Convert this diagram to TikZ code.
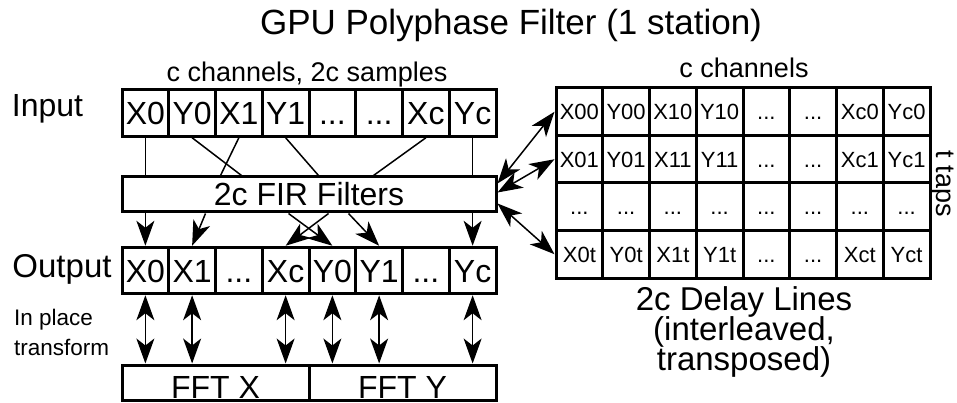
\documentclass[tikz,border=0pt]{standalone}
\usepackage{fontspec}
\setmainfont{Liberation Sans}
\usetikzlibrary{arrows.meta,calc}

\newcommand{\dts}{...}
\tikzset{
  cell/.style={draw, line width=3pt, inner sep=0pt, minimum width=46.75pt,
    minimum height=46.5pt, text height=23pt, text depth=0pt,
    font=\fontsize{32}{32}\selectfont},
  tapcell/.style={draw, line width=3pt, inner sep=0pt, minimum width=46.75pt,
    minimum height=47.5pt, text height=16pt, text depth=0pt,
    font=\fontsize{22}{22}\selectfont},
  bar/.style={draw, line width=3pt, inner sep=0pt, font=\fontsize{32}{32}\selectfont},
  lbl/.style={inner sep=0pt, anchor=base},
  wire/.style={line width=1.5pt},
  flow/.style={wire, -{Stealth[length=25pt,width=18pt,inset=7pt]}},
  swap/.style={wire, {Stealth[length=25pt,width=18pt,inset=7pt]}-{Stealth[length=25pt,width=18pt,inset=7pt]}},
}

\begin{document}
\begin{tikzpicture}[x=1pt,y=-1pt]
\useasboundingbox (0,0) rectangle (957,403);

\node[lbl, font=\fontsize{35}{35}\selectfont] (title) at (511,35) {GPU Polyphase Filter (1 station)};

\node[lbl, font=\fontsize{27}{27}\selectfont] (samples) at (307,82) {c channels, 2c samples};
\node[lbl, font=\fontsize{32}{32}\selectfont] (input) at (47.5,117) {Input};
\foreach \lab [count=\i] in {X0,Y0,X1,Y1,\dts,\dts,Xc,Yc}
  \node[cell] (in-\i) at ({122+46.75*(\i-0.5)},113) {\lab};

\node[bar, minimum width=374pt, minimum height=35pt] (fir) at (309,194.5) {2c FIR Filters};

\node[lbl, font=\fontsize{33}{33}\selectfont] (output) at (62,277) {Output};
\foreach \lab [count=\i] in {X0,X1,\dts,Xc,Y0,Y1,\dts,Yc}
  \node[cell] (out-\i) at ({122+46.75*(\i-0.5)},270.5) {\lab};

\node[lbl, anchor=base west, font=\fontsize{22.5}{22.5}\selectfont] (inplace) at (14,325) {In place};
\node[lbl, anchor=base west, font=\fontsize{22.5}{22.5}\selectfont] (transform) at (14,355) {transform};

\node[bar, minimum width=187pt, minimum height=35pt, text height=31pt, text depth=0pt] (fftx) at (215.5,382.5) {FFT X};
\node[bar, minimum width=187pt, minimum height=35pt, text height=31pt, text depth=0pt] (ffty) at (402.5,382.5) {FFT Y};

\node[lbl, font=\fontsize{27}{27}\selectfont] (channels) at (744,78) {c channels};
\foreach \r/\row in {0/{X00,Y00,X10,Y10,\dts,\dts,Xc0,Yc0},
                     1/{X01,Y01,X11,Y11,\dts,\dts,Xc1,Yc1},
                     2/{\dts,\dts,\dts,\dts,\dts,\dts,\dts,\dts},
                     3/{X0t,Y0t,X1t,Y1t,\dts,\dts,Xct,Yct}}
  \foreach \lab [count=\c] in \row
    \node[tapcell] (tap-\r-\c) at ({556+46.75*(\c-0.5)},{88+47.5*(\r+0.5)}) {\lab};
\node[rotate=-90, inner sep=0pt, font=\fontsize{27}{27}\selectfont] (taps) at (942,184) {t taps};

\node[lbl, font=\fontsize{33}{33}\selectfont] (delay1) at (744,310) {2c Delay Lines};
\node[lbl, font=\fontsize{33}{33}\selectfont] (delay2) at (744,340) {(interleaved,};
\node[lbl, font=\fontsize{33}{33}\selectfont] (delay3) at (744,370) {transposed)};

\draw[wire] (in-1.south) -- (in-1.south |- fir.north);
\draw[wire] (in-2.south) -- ($(fir.north west)+(121,0)$);
\draw[wire] (in-3.south) -- ($(fir.north west)+(100,0)$);
\draw[wire] (in-4.south) -- ($(fir.north west)+(198,0)$);
\draw[wire] (in-7.south) -- ($(fir.north west)+(253,0)$);
\draw[wire] (in-8.south) -- (in-8.south |- fir.north);

\draw[flow] (fir.south -| out-1.north) -- (out-1.north);
\draw[flow] ($(fir.south west)+(85,0)$) -- (out-2.north);
\draw[flow] ($(fir.south west)+(168,0)$) -- (out-5.north);
\draw[flow] ($(fir.south west)+(208,0)$) -- (out-4.north);
\draw[flow] ($(fir.south west)+(228,0)$) -- (out-6.north);
\draw[flow] (fir.south -| out-8.north) -- (out-8.north);

\foreach \i in {1,2,4,5,6,8}
  \draw[swap] (out-\i.south) -- (out-\i.south |- fftx.north);

\draw[swap] ($(fir.east)+(0,-11)$) -- (tap-0-1.west);
\draw[swap] ($(fir.east)+(0,-2)$) -- (tap-1-1.west);
\draw[swap] ($(fir.east)+(0,9)$) -- (tap-3-1.west);
\end{tikzpicture}
\end{document}
